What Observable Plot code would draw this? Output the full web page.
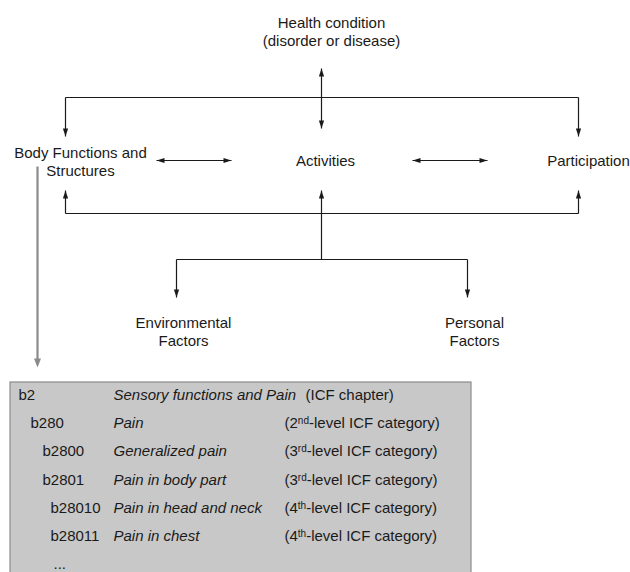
<!DOCTYPE html>
<html>
<head>
<meta charset="utf-8">
<script src="https://cdn.jsdelivr.net/npm/d3@7"></script>
<script src="https://cdn.jsdelivr.net/npm/@observablehq/plot@0.6"></script>
<style>
  html, body { margin: 0; padding: 0; background: #fff; }
  #chart { width: 630px; height: 572px; overflow: hidden; }
</style>
</head>
<body>
<div id="chart"></div>
<script>
// ---------- Diagram nodes (ICF model) ----------
const nodeLabels = [
  "Health condition\n(disorder or disease)",
  "Body Functions and\nStructures",
  "Activities",
  "Participation",
  "Environmental\nFactors",
  "Personal\nFactors"
];
const nodeX = [331, 80, 325, 588, 183, 474];
const nodeY = [30.5, 161, 160, 160, 330.5, 330.5];

// ---------- Connector segments ----------
const segX1 = [65, 65, 578, 321, 156, 412, 65, 65, 321, 578, 321, 176, 176, 467];
const segY1 = [97, 97, 97, 68, 160, 160, 213, 213, 213, 213, 213, 259, 259, 259];
const segX2 = [578, 65, 578, 321, 231, 487, 578, 65, 321, 578, 321, 467, 176, 467];
const segY2 = [97, 136, 136, 128, 160, 160, 213, 190, 190, 190, 259, 259, 297, 297];

// ---------- Arrow heads (tip position + direction) ----------
const headX = [321, 321, 65, 578, 156, 231, 412, 487, 65, 321, 578, 176, 467];
const headY = [68, 128, 136, 136, 160, 160, 160, 160, 190, 190, 190, 297, 297];
const headDir = ["up", "down", "down", "down", "left", "right", "left", "right", "up", "up", "up", "down", "down"];

// ---------- Grey drill-down arrow ----------
const greyX = [37, 37];
const greyY = [166, 361];

// ---------- ICF code table ----------
const codes = ["b2", "b280", "b2800", "b2801", "b28010", "b28011", "..."];
const codeX = [18, 30, 42, 42, 50, 50, 53];
const names = ["Sensory functions and Pain", "Pain", "Generalized pain", "Pain in body part",
               "Pain in head and neck", "Pain in chest", ""];
const levels = ["(ICF chapter)", "(2^nd^-level ICF category)", "(3^rd^-level ICF category)",
                "(3^rd^-level ICF category)", "(4^th^-level ICF category)", "(4^th^-level ICF category)", ""];
const levelX = [305, 284, 284, 284, 284, 284, 284];
const rowY = [395, 423, 451, 480, 508, 536, 564];
const boxX = [10, 471];
const boxY = [382, 590];

const rot = {up: 0, right: 90, down: 180, left: 270};
const headSymbol = {
  draw(ctx) { ctx.moveTo(0, 0); ctx.lineTo(2.6, 8); ctx.lineTo(-2.6, 8); ctx.closePath(); }
};
const greyHead = {
  draw(ctx) { ctx.moveTo(0, 0); ctx.lineTo(3.5, 9); ctx.lineTo(-3.5, 9); ctx.closePath(); }
};

const idx = n => d3.range(n);
const font = "'Liberation Sans', Arial, Helvetica, sans-serif";
const ink = "#1a1a1a";

const svg = Plot.plot({
  width: 630,
  height: 572,
  margin: 0,
  x: {domain: [0, 630], range: [0, 630], axis: null},
  y: {domain: [0, 572], range: [0, 572], axis: null},
  style: {background: "#fff", fontFamily: font},
  marks: [
    // grey table box
    Plot.rect([0], {x1: boxX[0], x2: boxX[1], y1: boxY[0], y2: boxY[1], fill: "#c8c8c8", stroke: "#8c8c8c", strokeWidth: 1.2}),
    // connectors
    Plot.link(idx(segX1.length), {
      x1: i => segX1[i], y1: i => segY1[i], x2: i => segX2[i], y2: i => segY2[i],
      stroke: ink, strokeWidth: 1.2
    }),
    Plot.dot(idx(headX.length), {
      x: i => headX[i], y: i => headY[i], rotate: i => rot[headDir[i]],
      symbol: headSymbol, fill: ink, stroke: "none"
    }),
    // grey drill-down arrow
    Plot.link([0], {x1: greyX[0], y1: greyY[0], x2: greyX[1], y2: greyY[1], stroke: "#8a8a8a", strokeWidth: 2.2}),
    Plot.dot([0], {x: greyX[1], y: greyY[1] + 6, rotate: 180, symbol: greyHead, fill: "#8a8a8a", stroke: "none"}),
    // node labels
    Plot.text(idx(nodeLabels.length), {
      x: i => nodeX[i], y: i => nodeY[i], text: i => nodeLabels[i],
      fontSize: 15, lineHeight: 1.2, fill: ink, textAnchor: "middle", lineAnchor: "middle"
    }),
    // table columns
    Plot.text(idx(codes.length), {
      x: i => codeX[i], y: i => rowY[i], text: i => codes[i],
      fontSize: 15, fill: ink, textAnchor: "start", lineAnchor: "middle"
    }),
    Plot.text(idx(names.length), {
      x: () => 113, y: i => rowY[i], text: i => names[i],
      fontSize: 15, fontStyle: "italic", fill: ink, textAnchor: "start", lineAnchor: "middle"
    }),
    Plot.text(idx(levels.length), {
      x: i => levelX[i], y: i => rowY[i], text: i => levels[i],
      fontSize: 15, fill: ink, textAnchor: "start", lineAnchor: "middle",
      className: "levels"
    })
  ]
});

// render superscripts (2nd, 3rd, 4th) as real superscript tspans
svg.querySelectorAll("text").forEach(t => {
  const s = t.textContent;
  if (!s.includes("^")) return;
  const parts = s.split("^");
  t.textContent = "";
  const ns = "http://www.w3.org/2000/svg";
  const a = document.createElementNS(ns, "tspan"); a.textContent = parts[0];
  const b = document.createElementNS(ns, "tspan"); b.textContent = parts[1];
  b.setAttribute("font-size", "10"); b.setAttribute("dy", "-0.45em");
  const c = document.createElementNS(ns, "tspan"); c.textContent = parts[2];
  c.setAttribute("dy", "4.5");
  t.append(a, b, c);
});

document.getElementById("chart").appendChild(svg);
</script>
</body>
</html>
